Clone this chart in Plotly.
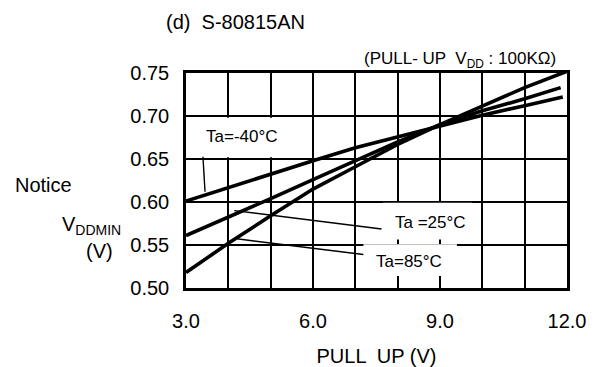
import plotly.graph_objects as go

# Ta = -40 C
x_m40 = [3, 4, 5, 6, 7, 8, 9, 10, 11, 11.9]
y_m40 = [0.601, 0.617, 0.632, 0.648, 0.663, 0.676, 0.689, 0.701, 0.712, 0.722]

# Ta = 25 C
x_25 = [3, 4, 5, 6, 7, 8, 9, 10, 11, 11.85]
y_25 = [0.561, 0.582, 0.604, 0.626, 0.648, 0.670, 0.690, 0.706, 0.720, 0.733]

# Ta = 85 C
x_85 = [3, 4, 5, 6, 7, 8, 9, 10, 11, 12.0]
y_85 = [0.518, 0.552, 0.584, 0.615, 0.641, 0.667, 0.690, 0.712, 0.733, 0.752]

x_grid = [3, 4, 5, 6, 7, 8, 9, 10, 11, 12]
x_labels = ["3.0", "", "", "6.0", "", "", "9.0", "", "", "12.0"]
y_ticks = [0.50, 0.55, 0.60, 0.65, 0.70, 0.75]
y_labels = ["0.50", "0.55", "0.60", "0.65", "0.70", "0.75"]

FONT = "Arial, Liberation Sans, sans-serif"

fig = go.Figure()
for xs, ys, name in [(x_m40, y_m40, "Ta=-40°C"), (x_25, y_25, "Ta=25°C"), (x_85, y_85, "Ta=85°C")]:
    fig.add_trace(go.Scatter(x=xs, y=ys, mode="lines", name=name,
                             line=dict(color="black", width=3.6)))

# white boxes behind the labels (cover gridlines)
for x0, x1, y0, y1 in [(3.02, 5.5, 0.652, 0.698), (7.65, 9.76, 0.5565, 0.599), (7.19, 9.4, 0.514, 0.551)]:
    fig.add_shape(type="rect", x0=x0, x1=x1, y0=y0, y1=y1, layer="between",
                  fillcolor="white", line=dict(width=0))

# pointer lines
for x0, y0, x1, y1 in [(3.40, 0.6527, 3.45, 0.612), (4.14, 0.590, 7.62, 0.5686), (4.2, 0.5572, 7.19, 0.539)]:
    fig.add_shape(type="line", x0=x0, y0=y0, x1=x1, y1=y1,
                  line=dict(color="black", width=1.4))

ann_font = dict(family=FONT, size=17, color="black")
fig.add_annotation(x=4.33, y=0.676, text="Ta=-40°C", showarrow=False, font=ann_font)
fig.add_annotation(x=8.77, y=0.5756, text="Ta =25°C", showarrow=False, font=ann_font)
fig.add_annotation(x=8.27, y=0.5314, text="Ta=85°C", showarrow=False, font=ann_font)

big = dict(family=FONT, size=20, color="black")


def side_text(x, y, text, font=big, xanchor="center"):
    fig.add_annotation(xref="paper", yref="paper", x=x, y=y, text=text,
                       xanchor=xanchor, yanchor="middle", showarrow=False, font=font)


side_text(0.13, 1.235, "(d)  S-80815AN")
side_text(0.976, 1.06, "(PULL- UP  V<sub>DD</sub> : 100KΩ)", font=ann_font, xanchor="right")
side_text(-0.373, 0.479, "Notice")
side_text(-0.247, 0.29, "V<sub>DDMIN</sub>")
side_text(-0.226, 0.172, "(V)")

fig.update_layout(
    width=601, height=359,
    margin=dict(l=178, r=42, t=65, b=79),
    plot_bgcolor="white", paper_bgcolor="white",
    showlegend=False,
    font=big,
    xaxis=dict(range=[3, 12], tickvals=x_grid, ticktext=x_labels,
               showgrid=True, gridcolor="black", gridwidth=2,
               showline=True, linecolor="black", linewidth=2.5, mirror=True,
               ticks="", ticklabelstandoff=13, zeroline=False, automargin=False,
               title=dict(text="PULL  UP (V)", standoff=20, font=big)),
    yaxis=dict(range=[0.5, 0.75], tickvals=y_ticks, ticktext=y_labels,
               showgrid=True, gridcolor="black", gridwidth=2,
               showline=True, linecolor="black", linewidth=2.5, mirror=True,
               ticks="", ticklabelstandoff=10, zeroline=False, automargin=False),
)

fig.write_html("out.html")
